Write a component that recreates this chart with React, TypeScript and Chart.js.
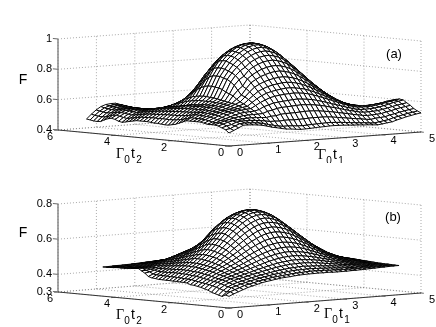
import React, { useEffect, useRef } from "react";
import { Chart, registerables } from "chart.js";

Chart.register(...registerables);

const tOneTicks = [0, 1, 2, 3, 4, 5];
const tTwoTicks = [0, 2, 4, 6];
const fTicksA = [0.4, 0.6, 0.8, 1];
const fTicksB = [0.3, 0.4, 0.6, 0.8];
const tStepA = 0.125;
const tStepB = 0.123;

// F x 1000, t1 >= t2 half; row = t1 index, column = t2 index
const surfaceA: number[][] = [
[486],
[500,510],
[515,525,532],
[530,538,545,552],
[530,540,550,558,566],
[528,538,550,560,572,582],
[525,537,550,563,577,590,602],
[520,533,548,563,579,594,606,614],
[512,527,544,562,580,596,610,620,628],
[503,518,540,560,580,598,612,625,638,650],
[497,511,534,558,582,606,630,648,665,680,690],
[490,504,534,564,594,623,648,670,690,712,730,745],
[484,500,532,565,600,632,662,688,714,740,767,790,805],
[482,500,535,572,609,642,675,702,729,757,786,814,842,860],
[478,498,535,575,613,646,682,711,741,771,803,833,863,888,912],
[475,495,533,575,615,649,687,717,749,781,814,847,878,906,931,952],
[476,495,534,576,617,652,690,722,755,788,824,857,890,919,945,966,981],
[477,496,535,578,619,655,693,726,759,793,829,863,896,926,952,974,989,996],
[480,498,537,580,621,657,694,727,761,795,831,865,898,928,954,976,990,997,1000],
[481,499,538,580,619,654,692,723,757,790,825,859,892,921,947,968,983,990,992,985],
[482,500,538,579,617,651,688,718,751,783,817,850,881,910,935,956,970,978,979,972,959],
[484,502,538,576,613,646,682,711,741,772,805,836,867,893,917,937,950,958,959,952,940,921],
[484,502,537,572,608,639,672,699,728,757,788,817,846,871,893,912,925,932,933,927,915,897,875],
[483,500,533,567,601,630,662,687,714,740,768,795,821,844,865,882,894,901,902,896,885,869,848,824],
[482,498,529,562,593,621,650,673,697,721,747,771,794,816,835,850,861,867,868,863,853,838,819,796,771],
[480,495,524,556,586,611,638,659,680,701,723,745,766,786,801,816,826,831,832,827,818,805,788,767,745,721],
[478,492,520,550,578,601,626,644,663,680,701,719,737,755,769,781,790,795,796,792,784,772,756,738,718,697,675],
[477,489,515,544,569,592,613,629,645,660,677,692,709,723,735,746,754,758,759,755,748,738,724,708,691,672,653,634],
[474,486,511,537,561,581,601,615,627,639,654,667,681,692,702,712,719,722,723,720,714,705,693,680,664,648,632,615,600],
[473,484,507,532,554,572,590,601,612,621,633,643,654,664,672,681,686,689,690,687,682,674,665,653,640,626,612,598,585,572],
[470,480,502,526,546,563,579,588,596,604,613,621,630,638,644,651,656,658,659,657,652,646,638,628,617,606,594,582,571,560,550],
[468,478,499,523,542,558,572,580,585,589,596,602,609,614,619,625,628,630,631,629,625,620,613,605,597,587,578,568,559,550,542,534],
[472,483,505,524,542,557,569,575,578,580,584,586,591,594,598,602,605,607,607,606,603,598,593,586,579,571,563,555,548,541,534,528,523],
[477,488,507,526,544,558,569,573,573,572,572,572,575,577,579,581,583,585,585,584,581,578,574,568,563,557,550,544,538,532,527,522,518,515],
[481,493,510,529,546,560,570,572,570,566,564,562,562,562,563,564,565,567,567,566,564,561,558,554,549,545,540,535,530,525,521,518,514,511,509],
[491,503,519,537,552,565,574,575,570,563,559,555,552,550,550,550,551,552,552,551,550,548,545,542,538,535,531,527,523,520,517,514,511,509,507,505],
[499,510,525,543,558,572,580,579,572,562,555,549,545,541,539,538,539,540,540,539,538,537,535,532,529,527,524,521,518,515,513,510,509,507,505,504,503],
[508,518,533,551,566,579,586,584,575,562,554,545,539,534,531,529,529,530,530,529,529,528,526,524,522,520,518,516,514,511,510,508,506,505,504,503,502,502],
[514,525,539,558,573,588,593,591,579,564,552,542,534,528,524,521,522,522,522,522,521,520,519,518,516,515,513,511,510,508,507,506,505,504,503,502,502,501,501],
[521,530,545,563,578,593,599,595,582,565,552,540,532,523,520,515,516,516,516,516,515,515,514,513,512,511,509,508,507,506,505,504,503,503,502,502,501,501,501,500],
[526,536,550,569,584,600,604,600,586,567,553,539,530,520,516,511,512,512,512,512,511,511,510,510,509,508,507,506,505,505,504,503,503,502,502,501,501,501,501,500,500],
];

// F x 1000, t2 > t1 side; row = t2 index - 1, column = t1 index
const surfaceALeft: number[][] = [
[505],
[515,525],
[525,535,545],
[530,540,550,558],
[530,540,552,562,572],
[530,542,555,568,582,592],
[535,548,562,575,588,598,606],
[540,553,567,580,592,602,610,618],
[540,555,570,583,594,604,612,624,636],
[540,556,572,585,597,609,620,630,640,665],
[540,556,573,587,599,611,622,634,645,685,720],
[540,557,574,588,601,614,625,638,650,695,750,785],
[530,550,570,586,600,614,625,640,655,705,770,810,840],
[520,544,566,584,600,614,625,642,660,720,785,825,860,888],
[510,538,562,582,600,615,625,644,665,728,790,835,875,905,930],
[505,535,560,581,599,614,622,643,665,732,800,845,885,918,945,966],
[500,532,558,580,598,612,620,644,670,735,800,850,895,925,950,975,989],
[500,532,558,580,598,612,620,644,670,735,800,850,895,928,955,976,990],
[502,532,557,578,596,610,615,640,668,730,790,845,890,922,947,968,983],
[505,533,557,577,594,606,610,637,665,720,770,822,870,905,935,956,970],
[505,532,555,575,591,601,605,632,660,705,745,795,845,883,915,935,950],
[508,533,554,573,588,597,600,625,650,685,720,770,820,858,890,910,925],
[510,533,553,571,585,593,597,618,640,668,695,743,790,825,855,875,893],
[510,532,552,569,582,590,593,610,628,650,670,712,755,788,820,842,860],
[510,531,550,566,579,587,590,603,615,630,645,682,720,750,780,802,820],
[510,530,548,563,575,583,585,592,600,612,625,657,690,715,740,762,780],
[505,526,544,559,571,578,578,584,590,597,605,632,660,680,700,720,740],
[500,521,540,555,566,572,570,575,580,585,590,610,630,647,665,683,700],
[495,517,536,551,561,566,563,567,572,575,578,594,610,620,630,647,665],
[490,513,533,548,558,562,560,562,565,567,570,580,590,595,600,615,630],
[495,517,536,550,559,561,558,559,560,561,562,568,575,577,580,590,600],
[505,523,540,553,560,561,556,555,555,555,555,557,560,560,560,567,575],
[510,527,543,555,561,561,556,553,550,550,550,550,550,550,550,555,560],
[505,525,542,555,562,562,558,552,548,546,545,545,545,543,540,545,550],
[495,518,538,553,561,563,560,553,547,544,542,541,540,537,535,537,540],
[483,510,533,550,560,563,562,555,548,543,540,537,535,532,530,532,535],
[480,508,532,551,562,566,566,558,550,544,540,535,530,527,525,527,530],
[482,510,535,554,565,570,570,561,552,546,540,535,530,525,520,520,520],
[486,514,539,558,569,574,574,565,555,547,540,535,530,525,520,517,515],
[490,519,545,565,576,580,580,570,560,550,540,535,530,522,515,512,510],
];

// F x 1000, t1 >= t2 half
const surfaceB: number[][] = [
[366],
[378,388],
[388,398,407],
[398,407,415,422],
[408,417,424,431,440],
[415,423,430,437,447,453],
[422,429,437,444,453,460,469],
[429,436,443,451,460,468,477,487],
[434,441,449,457,467,475,485,496,508],
[438,446,454,463,472,483,494,507,519,533],
[443,451,459,468,479,490,503,517,532,547,563],
[447,454,464,473,485,497,511,527,544,561,579,597],
[449,457,467,478,491,504,520,537,555,574,595,615,635],
[451,460,470,482,496,510,527,546,566,587,609,631,652,673],
[454,463,474,485,500,516,534,553,575,598,622,645,669,690,709],
[456,465,477,489,504,520,539,560,583,607,633,658,683,705,725,743],
[457,466,478,490,507,523,543,564,588,613,640,667,692,716,737,755,768],
[458,468,479,493,508,526,546,568,592,618,645,672,698,722,745,763,776,784],
[458,469,480,494,509,527,547,569,593,619,647,674,700,724,747,765,778,786,788],
[459,469,480,492,509,525,546,567,592,617,644,671,697,722,743,761,774,782,784,781],
[458,468,479,491,507,523,543,564,588,613,639,665,690,714,735,752,765,773,775,772,764],
[459,468,478,490,506,521,539,560,583,606,631,657,681,703,723,740,753,760,762,759,750,737],
[457,466,476,487,502,517,534,554,575,597,620,644,667,688,706,723,734,741,743,740,732,719,703],
[457,466,475,485,498,513,528,546,565,586,607,629,650,669,687,701,712,718,720,717,710,698,683,667],
[457,464,473,483,495,507,521,538,555,574,594,613,632,651,666,679,689,694,696,693,687,677,664,648,630],
[457,464,471,480,491,502,515,529,545,562,579,597,614,630,643,656,664,670,671,669,663,653,641,627,612,596],
[458,464,470,478,487,497,508,521,535,550,565,580,595,609,621,631,638,643,644,643,638,630,619,607,593,578,564],
[458,463,469,476,483,492,502,513,525,537,550,563,575,587,598,607,613,617,618,616,612,605,596,585,574,562,549,537],
[459,464,468,473,481,487,496,505,516,526,536,548,559,569,577,585,590,593,594,594,590,584,576,567,557,547,536,526,516],
[460,464,468,472,478,484,491,498,507,515,524,534,543,551,558,564,569,571,572,571,568,563,557,549,542,533,524,515,507,501],
[461,464,467,471,476,480,486,492,498,506,513,520,527,534,540,546,549,551,552,551,549,545,540,533,527,520,513,506,500,494,488],
[462,465,467,470,474,477,482,487,492,498,504,510,516,521,526,530,533,534,535,534,532,529,525,520,515,510,504,498,493,488,484,481],
[463,465,467,469,472,475,479,482,486,491,495,500,504,509,513,516,518,520,520,519,518,515,512,508,504,500,495,491,488,484,480,477,475],
[464,465,468,469,471,473,476,479,482,485,489,492,496,499,502,504,506,507,507,507,505,503,501,498,495,492,489,486,482,479,477,474,472,471],
[465,466,467,469,470,472,473,475,478,480,483,486,488,491,493,495,497,498,498,498,496,495,493,491,488,486,483,481,478,476,474,472,471,469,468],
[466,466,467,468,469,470,472,473,475,477,479,481,483,484,486,487,488,489,489,489,488,487,486,484,482,480,478,476,475,473,471,470,469,468,467,467],
[466,466,467,468,468,469,470,471,473,474,475,477,478,480,481,482,482,483,483,483,482,482,480,479,478,476,475,474,472,471,470,469,468,467,467,466,466],
];

// F x 1000, t2 > t1 side
const surfaceBLeft: number[][] = [
[372],
[362,385],
[368,392,410],
[374,400,417,429],
[380,406,424,436,447],
[390,412,430,442,453,460],
[396,417,433,446,459,468,477],
[402,421,437,451,465,475,485,496],
[406,424,441,456,470,482,494,507,519],
[410,428,445,461,476,489,503,517,532,547],
[412,431,449,464,480,495,510,527,544,561,579],
[420,436,453,469,485,500,517,535,555,574,595,615],
[421,437,455,472,489,505,522,543,564,587,609,631,652],
[422,438,457,474,492,508,527,548,571,596,622,645,669,690],
[423,440,459,476,495,511,531,553,577,604,632,658,683,705,725],
[423,441,460,477,496,513,534,556,581,609,638,667,692,716,737],
[424,442,461,478,497,514,535,557,583,611,640,670,698,722,745],
[424,442,461,478,497,514,535,555,580,610,638,668,697,724,747],
[425,443,461,477,495,512,530,551,575,602,630,660,692,720,743],
[425,443,460,476,493,509,526,545,567,592,620,652,684,712,735],
[428,444,460,475,491,506,522,540,560,582,607,640,672,698,720],
[430,445,460,474,489,503,517,534,552,572,595,622,650,678,702],
[436,448,461,474,487,500,513,528,544,562,580,600,625,655,682],
[453,458,465,474,485,496,508,521,535,550,565,582,600,630,660],
[465,465,469,475,484,494,505,517,530,544,557,572,588,610,637],
[478,474,473,477,484,492,501,512,524,537,549,561,574,590,612],
[476,473,472,476,482,489,497,507,518,529,540,551,561,572,587],
[474,472,471,474,480,486,493,502,511,521,531,541,549,558,566],
[472,471,470,472,477,482,489,496,504,512,521,530,538,545,552],
[470,470,470,471,475,479,484,490,496,503,510,516,523,530,536],
[470,470,470,471,474,477,481,485,490,495,500,506,512,517,522],
[470,470,470,470,472,475,478,481,485,489,493,497,501,505,509],
[468,469,470,470,471,473,475,478,481,484,487,490,493,496,499],
[467,468,469,470,470,472,473,475,477,480,482,485,487,490,492],
[466,467,468,468,469,470,472,473,475,477,479,481,483,484,486],
[466,466,467,468,468,469,470,471,473,474,475,477,478,480,481],
];

type Panel = {
  table: number[][];
  left: number[][];
  step: number;
  fTicks: number[];
  height: number;
  ox: number; oy: number;
  t1y: number; t2y: number;
  fBase: number; fScale: number;
  tag: string; tagAt: [number, number];
  fAt: [number, number];
  t2At: [number, number];
  t1At: [number, number];
};

const T1X = 38.4;
const T2X = -28.5;
const T1MAX = 5;
const T2MAX = 6;

function project(p: Panel, t1: number, t2: number, f: number) {
  return {
    x: p.ox + T1X * t1 + T2X * t2,
    y: p.oy + p.t1y * t1 + p.t2y * t2 - (f - p.fBase) * p.fScale,
  };
}

function line(data: { x: number; y: number }[], color: string, width: number, dash: number[] = []) {
  return {
    data, showLine: true, fill: false, pointRadius: 0,
    borderColor: color, borderWidth: width, borderDash: dash,
  };
}

function heightAt(p: Panel, i: number, j: number) {
  if (i >= j) return p.table[i][j] / 1000;
  const row = p.left[j - 1];
  return (i < row.length ? row[i] : p.table[j][i]) / 1000;
}

function buildDatasets(p: Panel) {
  const n = p.table.length;
  const at = (i: number, j: number) => project(p, i * p.step, j * p.step, heightAt(p, i, j));
  const cells: { k: number; ds: any }[] = [];
  for (let i = 0; i < n - 1; i++) {
    for (let j = 0; j < n - 1; j++) {
      cells.push({
        k: i + j,
        ds: {
          data: [at(i, j), at(i + 1, j), at(i + 1, j + 1), at(i, j + 1), at(i, j)],
          showLine: true, fill: "shape", backgroundColor: "#ffffff",
          borderColor: "#000000", borderWidth: 0.95, pointRadius: 0,
        },
      });
    }
  }
  // The first dataset is painted last, so the nearest cells go first.
  cells.sort((a, b) => a.k - b.k);
  const fMin = p.fTicks[0];
  const fMax = p.fTicks[p.fTicks.length - 1];
  const dot = "#707070";
  const frame: any[] = [];
  frame.push(line([project(p, 0, 0, fMin), project(p, 0, T2MAX, fMin)], "#333333", 1));
  frame.push(line([project(p, 0, 0, fMin), project(p, T1MAX, 0, fMin)], "#333333", 1));
  frame.push(line([project(p, 0, T2MAX, fMin), project(p, 0, T2MAX, fMax)], "#808080", 1.4));
  p.fTicks.forEach((f) => frame.push(line([project(p, 0, T2MAX, f), project(p, 0, T2MAX + 0.18, f)], "#444444", 0.8)));
  tOneTicks.forEach((t) => frame.push(line([project(p, t, 0, fMin), project(p, t, -0.1, fMin)], "#444444", 0.8)));
  tTwoTicks.forEach((t) => frame.push(line([project(p, 0, t, fMin), project(p, -0.1, t, fMin)], "#444444", 0.8)));
  tOneTicks.forEach((t) => {
    frame.push(line([project(p, t, 0, fMin), project(p, t, T2MAX, fMin)], dot, 0.6, [1, 2]));
    frame.push(line([project(p, t, T2MAX, fMin), project(p, t, T2MAX, fMax)], dot, 0.6, [1, 2]));
  });
  tTwoTicks.forEach((t) => {
    frame.push(line([project(p, 0, t, fMin), project(p, T1MAX, t, fMin)], dot, 0.6, [1, 2]));
    frame.push(line([project(p, T1MAX, t, fMin), project(p, T1MAX, t, fMax)], dot, 0.6, [1, 2]));
  });
  p.fTicks.forEach((f) => {
    frame.push(line([project(p, 0, T2MAX, f), project(p, T1MAX, T2MAX, f), project(p, T1MAX, 0, f)], dot, 0.6, [1, 2]));
  });
  return [...cells.map((c) => c.ds), ...frame];
}

const SANS = '"Liberation Sans", Arial, sans-serif';
const SERIF = '"Liberation Serif", serif';

function textPlugin(p: Panel) {
  return {
    id: "panelText",
    afterDatasetsDraw(chart: any) {
      const { ctx, scales } = chart;
      const put = (s: string, x: number, y: number, font: string, align: CanvasTextAlign = "center") => {
        ctx.font = font;
        ctx.textAlign = align;
        ctx.textBaseline = "middle";
        ctx.fillStyle = "#000000";
        ctx.fillText(s, scales.x.getPixelForValue(x), scales.y.getPixelForValue(y));
      };
      ctx.save();
      p.fTicks.forEach((f) => {
        const a = project(p, 0, T2MAX, f);
        put(String(f), a.x - 6, a.y, `11px ${SANS}`, "right");
      });
      tOneTicks.forEach((t) => {
        const a = project(p, t, 0, p.fTicks[0]);
        put(String(t), a.x + 11, a.y + 6.5, `11px ${SANS}`);
      });
      tTwoTicks.forEach((t) => {
        const a = project(p, 0, t, p.fTicks[0]);
        put(String(t), a.x - 8, a.y + 7, `11px ${SANS}`);
      });
      put("F", p.fAt[0], p.fAt[1], `14px ${SANS}`);
      put(p.tag, p.tagAt[0], p.tagAt[1], `13px ${SANS}`);
      const axisLabel = (pos: [number, number], sub: string) => {
        const [x, y] = pos;
        put("\u0393", x - 10, y - 2, `14px ${SERIF}`);
        put("0", x - 3, y + 4, `10px ${SANS}`);
        put("t", x + 3, y - 2, `14px ${SANS}`);
        put(sub, x + 9, y + 4, `10px ${SANS}`);
      };
      axisLabel(p.t2At, "2");
      axisLabel(p.t1At, "1");
      ctx.restore();
    },
  };
}

const panelA: Panel = {
  table: surfaceA, left: surfaceALeft, step: tStepA, fTicks: fTicksA, height: 163,
  ox: 229, oy: 146, t1y: -2.8, t2y: -2.67, fBase: 0.4, fScale: 151.7,
  tag: "(a)", tagAt: [394, 54], fAt: [23, 80], t2At: [130, 156], t1At: [332, 157],
};

const panelB: Panel = {
  table: surfaceB, left: surfaceBLeft, step: tStepB, fTicks: fTicksB, height: 164,
  ox: 229, oy: 145, t1y: -3, t2y: -2.67, fBase: 0.3, fScale: 176,
  tag: "(b)", tagAt: [393, 54], fAt: [23, 70], t2At: [130, 154], t1At: [338, 153],
};

function SurfaceChart({ panel }: { panel: Panel }) {
  const ref = useRef<HTMLCanvasElement>(null);
  useEffect(() => {
    if (!ref.current) return;
    const chart = new Chart(ref.current, {
      type: "scatter",
      data: { datasets: buildDatasets(panel) as any },
      options: {
        responsive: false,
        animation: false,
        events: [],
        layout: { padding: 0 },
        scales: {
          x: { type: "linear", display: false, min: 0, max: 436 },
          y: { type: "linear", display: false, min: 0, max: panel.height, reverse: true },
        },
        plugins: { legend: { display: false }, tooltip: { enabled: false }, title: { display: false } },
      },
      plugins: [textPlugin(panel)],
    });
    return () => chart.destroy();
  }, [panel]);
  return <canvas ref={ref} width={436} height={panel.height} style={{ display: "block" }} />;
}

export default function App() {
  return (
    <div style={{ position: "absolute", left: 0, top: 0, width: 436, height: 327, background: "#fff" }}>
      <SurfaceChart panel={panelA} />
      <SurfaceChart panel={panelB} />
    </div>
  );
}
